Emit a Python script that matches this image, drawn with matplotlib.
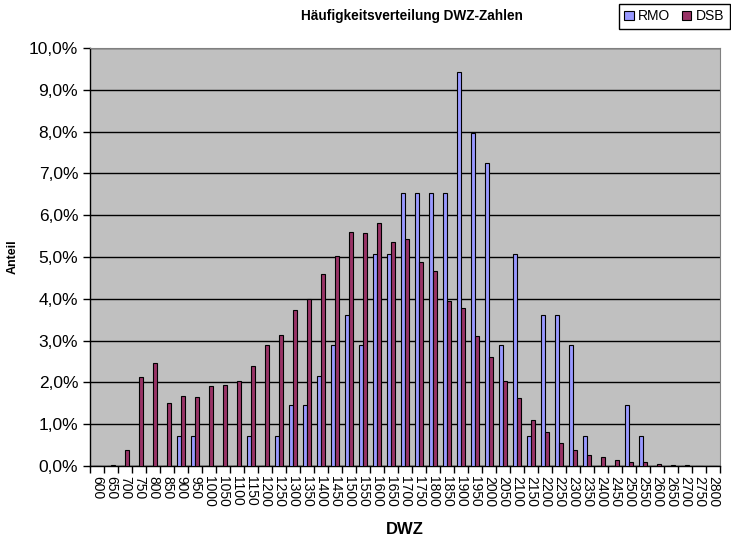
"""Häufigkeitsverteilung DWZ-Zahlen: RMO vs DSB, Excel-style grouped bars."""
import matplotlib
matplotlib.use("Agg")
import matplotlib.pyplot as plt
import numpy as np
from matplotlib.ticker import FuncFormatter, MultipleLocator

plt.rcParams["font.family"] = ["Liberation Sans", "DejaVu Sans"]

dwz = [str(v) for v in range(600, 2801, 50)]

# Anteil in %
rmo = [0, 0, 0, 0, 0, 0, 0.72, 0.72, 0, 0,
       0, 0.72, 0, 0.72, 1.46, 1.46, 2.16, 2.90, 3.62, 2.90,
       5.08, 5.08, 6.52, 6.52, 6.52, 6.52, 9.42, 7.96, 7.24, 2.90,
       5.08, 0.72, 3.62, 3.62, 2.90, 0.72, 0, 0, 1.46, 0.72,
       0, 0, 0, 0, 0]
dsb = [0, 0.02, 0.38, 2.13, 2.47, 1.51, 1.68, 1.66, 1.92, 1.94,
       2.04, 2.40, 2.90, 3.14, 3.74, 4.00, 4.60, 5.03, 5.61, 5.58,
       5.82, 5.35, 5.44, 4.89, 4.67, 3.95, 3.78, 3.11, 2.61, 2.04,
       1.63, 1.10, 0.82, 0.55, 0.38, 0.26, 0.22, 0.14, 0.10, 0.10,
       0.05, 0.02, 0.02, 0, 0]

fig = plt.figure(figsize=(7.31, 5.36), dpi=100)
ax = fig.add_axes([0.1231, 0.1306, 0.8619, 0.7798])
ax.set_facecolor("#C0C0C0")

x = np.arange(len(dwz))
w = 0.29
ax.bar(x - w / 2, rmo, w, color="#9999FF", edgecolor="black", linewidth=0.8,
       label="RMO", zorder=3)
ax.bar(x + w / 2, dsb, w, color="#993366", edgecolor="black", linewidth=0.8,
       label="DSB", zorder=3)

ax.set_xlim(-0.5, len(dwz) - 0.5)
ax.set_ylim(0, 10)
ax.yaxis.set_major_locator(MultipleLocator(1))
ax.yaxis.set_major_formatter(FuncFormatter(lambda v, p: f"{v:.1f}%".replace(".", ",")))
ax.grid(axis="y", color="black", linewidth=1.0, zorder=1)

ax.set_xticks(x)
ax.set_xticklabels(dwz, rotation=270, fontsize=10)
ax.set_xticks(np.arange(len(dwz) + 1) - 0.5, minor=True)
ax.tick_params(axis="x", which="major", length=0, pad=7)
ax.tick_params(axis="x", which="minor", length=5, width=1, direction="out")
ax.tick_params(axis="y", labelsize=12.5, length=5, width=1, direction="out")

for s in ("top", "right"):
    ax.spines[s].set_color("#808080")
for s in ("left", "bottom"):
    ax.spines[s].set_color("black")
    ax.spines[s].set_linewidth(1.0)

ax.set_xlabel("DWZ", fontsize=12, fontweight="bold")
ax.xaxis.set_label_coords(0.5, -0.134)
ax.set_ylabel("Anteil", fontsize=9, fontweight="bold")
ax.yaxis.set_label_coords(-0.113, 0.5)

fig.text(0.563, 0.970, "Häufigkeitsverteilung DWZ-Zahlen", ha="center", va="center",
         fontsize=9.8, fontweight="bold")

fig.legend(loc="upper right", bbox_to_anchor=(0.998, 0.993), ncol=2,
           fancybox=False, edgecolor="black", framealpha=1, fontsize=10,
           handlelength=0.7, handleheight=0.7, handletextpad=0.3,
           columnspacing=0.8, borderpad=0.4, borderaxespad=0)

fig.savefig("out.png", dpi=100)
